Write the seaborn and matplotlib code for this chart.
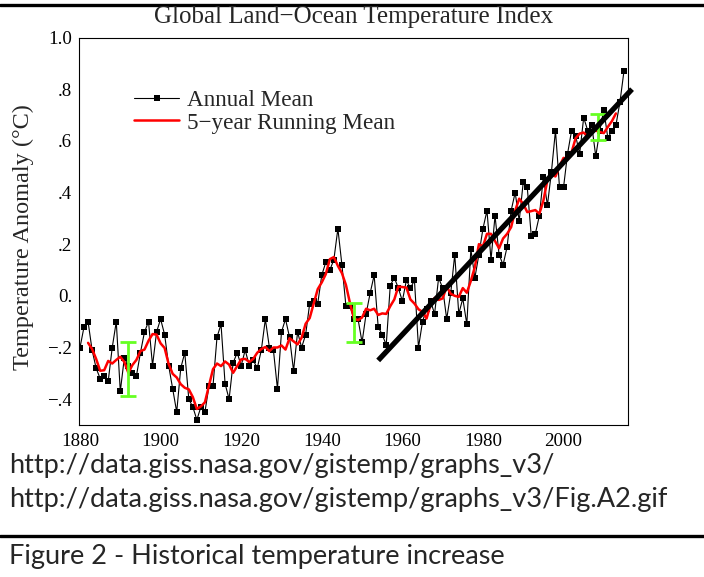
import numpy as np
import pandas as pd
import matplotlib
matplotlib.use('Agg')
import matplotlib.pyplot as plt
from matplotlib.lines import Line2D
import seaborn as sns

# ------------------------------------------------------------------
# data
# ------------------------------------------------------------------
years = list(range(1880, 2016))
annual_mean = [
    -0.20, -0.12, -0.10, -0.21, -0.28, -0.32, -0.31, -0.33, -0.20, -0.10,   # 1880s
    -0.37, -0.24, -0.27, -0.30, -0.31, -0.22, -0.14, -0.10, -0.27, -0.14,   # 1890s
    -0.09, -0.15, -0.27, -0.36, -0.45, -0.28, -0.22, -0.40, -0.43, -0.48,   # 1900s
    -0.43, -0.45, -0.35, -0.35, -0.16, -0.11, -0.34, -0.40, -0.26, -0.22,   # 1910s
    -0.27, -0.21, -0.27, -0.25, -0.28, -0.21, -0.09, -0.20, -0.21, -0.36,   # 1920s
    -0.14, -0.09, -0.16, -0.29, -0.14, -0.20, -0.15, -0.03, -0.02, -0.03,   # 1930s
    0.08, 0.13, 0.10, 0.14, 0.26, 0.12, -0.04, -0.04, -0.09, -0.09,         # 1940s
    -0.18, -0.07, 0.01, 0.08, -0.12, -0.15, -0.19, 0.04, 0.07, 0.03,        # 1950s
    -0.02, 0.06, 0.03, 0.06, -0.20, -0.10, -0.05, -0.02, -0.07, 0.07,       # 1960s
    0.03, -0.09, 0.01, 0.16, -0.07, -0.01, -0.11, 0.18, 0.07, 0.16,         # 1970s
    0.26, 0.33, 0.14, 0.31, 0.16, 0.12, 0.19, 0.33, 0.40, 0.29,             # 1980s
    0.44, 0.42, 0.23, 0.24, 0.31, 0.46, 0.35, 0.48, 0.64, 0.42,             # 1990s
    0.42, 0.55, 0.64, 0.62, 0.55, 0.69, 0.64, 0.66, 0.54, 0.64,             # 2000s
    0.72, 0.61, 0.64, 0.66, 0.75, 0.87,                                     # 2010s
]
running_window = 5

# hand-drawn trend line
trend_years = [1954, 2017]
trend_vals = [-0.25, 0.80]

# green uncertainty bars
unc_years = [1892, 1948, 2008.5]
unc_centers = [-0.283, -0.102, 0.654]
unc_half = [0.103, 0.076, 0.051]

xtick_vals = [1880, 1900, 1920, 1940, 1960, 1980, 2000]
ytick_vals = [-0.4, -0.2, 0.0, 0.2, 0.4, 0.6, 0.8, 1.0]
ytick_labels = ['\u2212.4', '\u2212.2', '0.', '.2', '.4', '.6', '.8', '1.0']

df = pd.DataFrame({'year': years, 'anomaly': annual_mean})
df['running'] = df['anomaly'].rolling(running_window, center=True).mean()

# ------------------------------------------------------------------
# plot
# ------------------------------------------------------------------
sns.set_style('white')
plt.rcParams['font.family'] = ['Liberation Serif', 'DejaVu Serif']

W, H = 704, 577
fig = plt.figure(figsize=(W / 100, H / 100), dpi=100)
ax = fig.add_axes([79 / W, 1 - 425 / H, (628 - 79) / W, (425 - 37.5) / H])

sns.lineplot(data=df, x='year', y='anomaly', ax=ax, color='black', linewidth=0.8,
             marker='s', markersize=4.3, markeredgewidth=0, label='Annual Mean', zorder=2)
sns.lineplot(data=df.dropna(), x='year', y='running', ax=ax, color='#ff0000', linewidth=1.8,
             label='5\u2212year Running Mean', zorder=3)
ax.errorbar(unc_years, unc_centers, yerr=unc_half, fmt='none', ecolor='#66ff22',
            elinewidth=2.0, capsize=5.5, capthick=2.0, zorder=4)
ax.plot(trend_years, trend_vals, color='black', linewidth=3.8, solid_capstyle='butt',
        clip_on=False, zorder=5)

ax.set_xlim(1879.75, 2016)
ax.set_ylim(-0.5, 1.0)
ax.set_xticks(xtick_vals)
ax.set_xticklabels([str(y) for y in xtick_vals])
ax.set_yticks(ytick_vals)
ax.set_yticklabels(ytick_labels)
ax.tick_params(length=0, labelsize=13.6, colors='black')
ax.tick_params(axis='y', pad=5)
ax.tick_params(axis='x', pad=6)
ax.set_xlabel('')
ax.set_ylabel('')
for s in ax.spines.values():
    s.set_color('black')
    s.set_linewidth(0.8)

leg = ax.legend(loc='upper left', bbox_to_anchor=(0.100, 0.866), frameon=False,
                fontsize=16.7, handlelength=1.95, handletextpad=0.35,
                labelspacing=0.07, borderpad=0, borderaxespad=0)

fig.text(354 / W, 1 - 23 / H, 'Global Land\u2212Ocean Temperature Index',
         ha='center', va='baseline', fontsize=18)
fig.text(23 / W, 1 - 237 / H, 'Temperature Anomaly (\u00b0C)', rotation=90,
         ha='center', va='center', fontsize=17.5)

# document text below the chart
doc_font = ['Lato', 'DejaVu Sans']
fig.text(9 / W, 1 - 473 / H, 'http://data.giss.nasa.gov/gistemp/graphs_v3/',
         family=doc_font, fontsize=19.5, va='baseline')
fig.text(9 / W, 1 - 507 / H, 'http://data.giss.nasa.gov/gistemp/graphs_v3/Fig.A2.gif',
         family=doc_font, fontsize=19.5, va='baseline')
fig.text(9 / W, 1 - 564 / H, 'Figure 2 - Historical temperature increase',
         family=doc_font, fontsize=19.5, va='baseline')

fig.add_artist(Line2D([0, 1], [1 - 5 / H] * 2, transform=fig.transFigure,
                      color='black', linewidth=2.4))
fig.add_artist(Line2D([0, 1], [1 - 536 / H] * 2, transform=fig.transFigure,
                      color='black', linewidth=2.4))

fig.savefig('out.png', dpi=100)
